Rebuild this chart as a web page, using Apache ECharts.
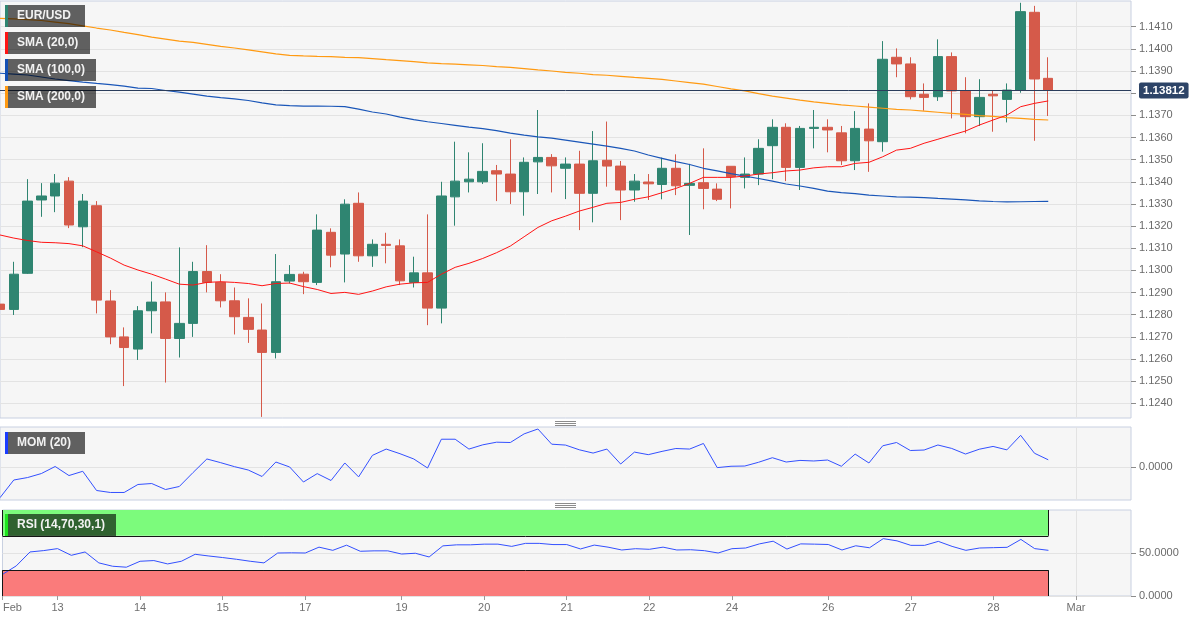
<!DOCTYPE html>
<html><head><meta charset="utf-8">
<script src="https://cdn.jsdelivr.net/npm/echarts@6/dist/echarts.min.js"></script>
<style>html,body{margin:0;padding:0;background:#fff}#c{width:1202px;height:622px}</style>
</head><body><div id="c"></div>
<script>
// ---------- DATA ----------
const categories = [
'02-12 08','02-12 12','02-12 16','02-12 20',
'02-13 00','02-13 04','02-13 08','02-13 12','02-13 16','02-13 20',
'02-14 00','02-14 04','02-14 08','02-14 12','02-14 16','02-14 20',
'02-15 00','02-15 04','02-15 08','02-15 12','02-15 16','02-15 20',
'02-17 20',
'02-18 00','02-18 04','02-18 08','02-18 12','02-18 16','02-18 20',
'02-19 00','02-19 04','02-19 08','02-19 12','02-19 16','02-19 20',
'02-20 00','02-20 04','02-20 08','02-20 12','02-20 16','02-20 20',
'02-21 00','02-21 04','02-21 08','02-21 12','02-21 16','02-21 20',
'02-22 00','02-22 04','02-22 08','02-22 12','02-22 16','02-22 20',
'02-24 20',
'02-25 00','02-25 04','02-25 08','02-25 12','02-25 16','02-25 20',
'02-26 00','02-26 04','02-26 08','02-26 12','02-26 16','02-26 20',
'02-27 00','02-27 04','02-27 08','02-27 12','02-27 16','02-27 20',
'02-28 00','02-28 04','02-28 08','02-28 12','02-28 16','02-28 20',
'03-01 00','03-01 04','03-01 08','03-01 12','03-01 16'
];
const labelIndex = [0,4,10,16,22,29,35,41,47,53,60,66,72,78];
const labelText  = ['Feb','13','14','15','17','19','20','21','22','24','26','27','28','Mar'];

const opens = [1.12848,1.12824,1.12987,1.13318,1.13336,1.13403,1.13197,1.13292,1.12862,1.12700,
1.12645,1.12818,1.12858,1.12693,1.12761,1.12995,1.12946,1.12863,1.12788,1.12731,
1.12630,1.12952,1.12983,1.12946,1.13172,1.13074,1.13303,1.13066,1.13118,1.13111,
1.12946,1.12989,1.12830,1.13332,1.13400,1.13400,1.13450,1.13435,1.13355,1.13490,
1.13510,1.13461,1.13480,1.13348,1.13497,1.13471,1.13363,1.13399,1.13388,1.13461,
1.13384,1.13396,1.13367,1.13470,1.13420,1.13435,1.13563,1.13646,1.13465,1.13641,
1.13646,1.13621,1.13495,1.13638,1.13581,1.13962,1.13932,1.13795,1.13784,1.13965,
1.13810,1.13694,1.13795,1.13772,1.13814,1.14165,1.13867];
const highs = [1.12911,1.13039,1.13412,1.13394,1.13435,1.13421,1.13345,1.13313,1.12911,1.12743,
1.12839,1.12950,1.12901,1.13104,1.13039,1.13114,1.12983,1.12923,1.12874,1.12851,
1.13074,1.13024,1.12994,1.13253,1.13190,1.13321,1.13352,1.13140,1.13170,1.13140,
1.13062,1.13253,1.13400,1.13581,1.13533,1.13574,1.13476,1.13592,1.13510,1.13724,
1.13525,1.13510,1.13540,1.13629,1.13672,1.13494,1.13435,1.13435,1.13509,1.13524,
1.13481,1.13551,1.13393,1.13470,1.13510,1.13592,1.13682,1.13664,1.13652,1.13724,
1.13682,1.13652,1.13719,1.13754,1.14035,1.14002,1.13962,1.13844,1.14043,1.13984,
1.13872,1.13863,1.13814,1.13844,1.14208,1.14194,1.13962];
const lows = [1.12573,1.12799,1.12984,1.13242,1.13263,1.13191,1.13105,1.12806,1.12667,1.12478,
1.12596,1.12716,1.12494,1.12607,1.12700,1.12901,1.12833,1.12711,1.12673,1.12339,
1.12603,1.12941,1.12893,1.12934,1.13014,1.12946,1.13039,1.13016,1.13032,1.12934,
1.12923,1.12753,1.12761,1.13202,1.13352,1.13390,1.13313,1.13300,1.13247,1.13345,
1.13352,1.13322,1.13182,1.13217,1.13378,1.13227,1.13310,1.13318,1.13321,1.13340,
1.13160,1.13276,1.13313,1.13280,1.13370,1.13385,1.13412,1.13403,1.13363,1.13551,
1.13533,1.13476,1.13453,1.13445,1.13536,1.13872,1.13772,1.13721,1.13765,1.13686,
1.13619,1.13652,1.13626,1.13668,1.13802,1.13585,1.13697];
const closes = [1.12824,1.12983,1.13313,1.13336,1.13394,1.13205,1.13313,1.12866,1.12700,1.12652,
1.12818,1.12857,1.12693,1.12761,1.12995,1.12946,1.12863,1.12791,1.12734,1.12630,
1.12949,1.12982,1.12949,1.13182,1.13069,1.13299,1.13066,1.13118,1.13113,1.12953,
1.12989,1.12830,1.13336,1.13403,1.13412,1.13447,1.13435,1.13355,1.13488,1.13510,
1.13472,1.13480,1.13348,1.13495,1.13471,1.13363,1.13403,1.13391,1.13461,1.13382,
1.13393,1.13370,1.13321,1.13423,1.13435,1.13551,1.13646,1.13465,1.13641,1.13646,
1.13634,1.13495,1.13641,1.13585,1.13953,1.13932,1.13784,1.13781,1.13965,1.13810,
1.13694,1.13781,1.13788,1.13814,1.14168,1.13864,1.13812];

const sma20 = [1.13160,1.13146,1.13135,1.13127,1.13125,1.13121,1.13111,1.13084,1.13056,1.13024,
1.13002,1.12983,1.12961,1.12938,1.12934,1.12946,1.12949,1.12946,1.12941,1.12931,
1.12941,1.12943,1.12927,1.12914,1.12896,1.12901,1.12892,1.12907,1.12926,1.12938,
1.12944,1.12946,1.12983,1.13014,1.13032,1.13054,1.13080,1.13110,1.13152,1.13194,
1.13224,1.13245,1.13268,1.13285,1.13303,1.13307,1.13321,1.13332,1.13351,1.13370,
1.13393,1.13420,1.13420,1.13420,1.13426,1.13435,1.13441,1.13449,1.13453,1.13463,
1.13468,1.13468,1.13483,1.13488,1.13513,1.13543,1.13551,1.13574,1.13592,1.13611,
1.13629,1.13656,1.13679,1.13701,1.13739,1.13754,1.13765];
const sma100 = [1.13890,1.13886,1.13882,1.13873,1.13864,1.13857,1.13850,1.13844,1.13839,1.13832,
1.13823,1.13821,1.13812,1.13805,1.13796,1.13787,1.13780,1.13774,1.13767,1.13756,
1.13747,1.13744,1.13742,1.13742,1.13741,1.13739,1.13728,1.13715,1.13706,1.13692,
1.13681,1.13671,1.13663,1.13655,1.13647,1.13640,1.13631,1.13620,1.13611,1.13603,
1.13597,1.13588,1.13579,1.13570,1.13561,1.13551,1.13539,1.13521,1.13506,1.13491,
1.13478,1.13461,1.13449,1.13437,1.13426,1.13415,1.13403,1.13390,1.13381,1.13370,
1.13358,1.13351,1.13347,1.13340,1.13336,1.13332,1.13331,1.13329,1.13325,1.13322,
1.13318,1.13314,1.13311,1.13309,1.13310,1.13311,1.13312];
const sma200 = [1.14138,1.14135,1.14132,1.14128,1.14121,1.14114,1.14104,1.14094,1.14085,1.14074,
1.14064,1.14053,1.14044,1.14035,1.14029,1.14020,1.14011,1.14004,1.13995,1.13986,
1.13977,1.13971,1.13968,1.13966,1.13965,1.13962,1.13960,1.13956,1.13951,1.13947,
1.13942,1.13937,1.13933,1.13931,1.13928,1.13925,1.13920,1.13916,1.13911,1.13905,
1.13900,1.13894,1.13890,1.13884,1.13881,1.13876,1.13871,1.13867,1.13862,1.13855,
1.13848,1.13841,1.13830,1.13819,1.13810,1.13798,1.13787,1.13778,1.13769,1.13761,
1.13754,1.13747,1.13742,1.13737,1.13732,1.13727,1.13724,1.13719,1.13714,1.13709,
1.13704,1.13699,1.13695,1.13690,1.13686,1.13682,1.13679];

const mom = [-0.0038,-0.00159,-0.00128,-0.00078,0.0001,-0.00103,-0.0005,-0.0029,-0.00315,-0.00315,
-0.00215,-0.00203,-0.00278,-0.0024,-0.00065,0.00104,0.00058,0.00008,-0.00034,-0.00115,
0.00066,0.00004,-0.00184,-0.00079,-0.00165,0.00054,-0.0012,0.00149,0.00228,0.0017,
0.00104,-0.00009,0.00351,0.00351,0.00228,0.00281,0.00314,0.0031,0.00418,0.00479,
0.00289,0.00278,0.00219,0.00178,0.00228,0.00041,0.0019,0.00158,0.00199,0.00235,
0.00228,0.00298,-0.00004,0.00013,0.00016,0.00063,0.0012,0.00066,0.00086,0.00079,
0.00091,0.00013,0.00165,0.00054,0.00269,0.0031,0.0021,0.00216,0.00279,0.00236,
0.00166,0.00226,0.00261,0.00218,0.004,0.00176,0.00094];
const rsi = [25.1,35.0,51.2,52.8,55.1,47.3,51.2,38.5,34.6,33.5,
40.4,41.2,37.3,40.4,48.5,46.5,44.7,42.7,40.4,38.5,
50.0,50.2,50.0,56.8,53.1,59.1,52.0,52.5,52.5,48.8,
49.7,45.4,58.3,59.5,59.5,60.3,60.3,57.7,61.2,61.2,
59.8,59.8,54.7,59.2,56.8,53.5,55.0,54.3,56.8,53.5,
53.8,52.7,50.0,55.0,55.8,60.6,63.7,54.6,60.6,60.3,
59.9,53.5,58.4,56.1,66.7,64.1,58.9,58.9,63.5,57.7,
53.1,55.8,56.2,56.6,65.8,55.1,53.1];
const rsiUpper = 70, rsiLower = 30;

const priceTicks = [1.124,1.125,1.126,1.127,1.128,1.129,1.130,1.131,1.132,1.133,1.134,1.135,1.136,1.137,1.138,1.139,1.140,1.141];
const momTicks = [0];
const rsiTicks = [0, 50];

// ---------- CHART ----------
const FONT = '"Liberation Sans", Arial, Helvetica, sans-serif';
const UP = '#2f8571', DOWN = '#d55a4a';
const BORDER = '#c8d0e1', SPLIT = '#e3e3e3', PLOTBG = '#f6f6f6';
const lastIdx = closes.length - 1;
const lastClose = closes[lastIdx];
const candleData = opens.map((o, i) => [o, closes[i], lows[i], highs[i]]);
const labelAt = {};
labelIndex.forEach((ix, k) => { labelAt[ix] = labelText[k]; });
const marIndex = labelIndex[labelIndex.length - 1];

function xAxisCfg(gi, showLabels) {
  return {
    type: 'category', gridIndex: gi, data: categories, boundaryGap: false,
    axisLine: { show: false },
    axisTick: showLabels ? { show: true, length: 4, lineStyle: { color: '#9a9a9a' },
      interval: (i) => labelAt[i] !== undefined } : { show: false },
    axisLabel: showLabels ? {
      show: true, interval: (i) => labelAt[i] !== undefined,
      formatter: (v, i) => i === 0 ? '{first|' + labelAt[i] + '}' : (labelAt[i] || ''),
      color: '#707070', fontSize: 11, fontFamily: FONT, margin: 6,
      rich: { first: { padding: [0, 0, 0, 20], fontSize: 11, color: '#707070', fontFamily: FONT } }
    } : { show: false },
    splitLine: { show: true, interval: (i) => i === marIndex, lineStyle: { color: SPLIT } }
  };
}
function yLabel(vals) {
  return { color: '#6a6a6a', fontSize: 11, fontFamily: FONT, margin: 8,
           formatter: (v) => Number(v).toFixed(4), customValues: vals };
}

const legendItems = [
  { text: 'EUR/USD', color: UP, x: 5, y: 5, w: 80 },
  { text: 'SMA (20,0)', color: '#ff1414', x: 5, y: 32, w: 85 },
  { text: 'SMA (100,0)', color: '#1450b4', x: 5, y: 59, w: 91 },
  { text: 'SMA (200,0)', color: '#ff9a12', x: 5, y: 86, w: 91 },
  { text: 'MOM (20)', color: '#1a3cff', x: 5, y: 432, w: 80 },
  { text: 'RSI (14,70,30,1)', color: '#1ee61e', x: 5, y: 514, w: 111 }
];
const graphics = [];
legendItems.forEach((it) => {
  graphics.push({ type: 'rect', z: 100, shape: { x: it.x, y: it.y, width: it.w, height: 22 },
                  style: { fill: 'rgba(0,0,0,0.61)' } });
  graphics.push({ type: 'rect', z: 101, shape: { x: it.x, y: it.y, width: 3, height: 22 },
                  style: { fill: it.color } });
  graphics.push({ type: 'text', z: 102, x: it.x + 12, y: it.y + 11,
                  style: { text: it.text, fill: '#f2f2f2', font: 'bold 12px ' + FONT,
                           textVerticalAlign: 'middle', verticalAlign: 'middle' } });
});
[421.5, 503.5].forEach((y0) => {
  [0, 2, 4].forEach((d) => {
    graphics.push({ type: 'line', z: 100, shape: { x1: 555, y1: y0 + d, x2: 576, y2: y0 + d },
                    style: { stroke: '#8c8c8c', lineWidth: 1 } });
  });
});

const option = {
  animation: false,
  backgroundColor: '#ffffff',
  textStyle: { fontFamily: FONT },
  grid: [
    { left: 0, top: 1, width: 1131, height: 417, show: true, backgroundColor: PLOTBG, borderColor: BORDER, borderWidth: 1 },
    { left: 0, top: 427, width: 1131, height: 73, show: true, backgroundColor: PLOTBG, borderColor: BORDER, borderWidth: 1 },
    { left: 0, top: 510, width: 1131, height: 86, show: true, backgroundColor: PLOTBG, borderColor: BORDER, borderWidth: 1 }
  ],
  xAxis: [xAxisCfg(0, false), xAxisCfg(1, false), xAxisCfg(2, true)],
  yAxis: [
    { type: 'value', gridIndex: 0, position: 'right', min: 1.12334, max: 1.14216, splitNumber: 18,
      axisLine: { show: false },
      axisTick: { show: true, length: 5, lineStyle: { color: '#8c8c8c' }, customValues: priceTicks },
      axisLabel: yLabel(priceTicks), splitLine: { lineStyle: { color: SPLIT } } },
    { type: 'value', gridIndex: 1, position: 'right', min: -0.00409, max: 0.00504, splitNumber: 1,
      axisLine: { show: false },
      axisTick: { show: true, length: 5, lineStyle: { color: '#8c8c8c' }, customValues: momTicks },
      axisLabel: yLabel(momTicks), splitLine: { lineStyle: { color: SPLIT } } },
    { type: 'value', gridIndex: 2, position: 'right', min: 0, max: 100, splitNumber: 2,
      axisLine: { show: false },
      axisTick: { show: true, length: 5, lineStyle: { color: '#8c8c8c' }, customValues: rsiTicks },
      axisLabel: yLabel(rsiTicks), splitLine: { lineStyle: { color: SPLIT } } }
  ],
  graphic: graphics,
  series: [
    { type: 'candlestick', name: 'EUR/USD', xAxisIndex: 0, yAxisIndex: 0, data: candleData,
      barWidth: 10, clip: true, silent: true,
      itemStyle: { color: UP, color0: DOWN, borderColor: UP, borderColor0: DOWN, borderWidth: 1 },
      markLine: { silent: true, symbol: ['none', 'none'], precision: 5,
        lineStyle: { color: '#2b3d5c', width: 1, type: 'solid' },
        label: { show: true, position: 'end', distance: 8, formatter: () => lastClose.toFixed(5),
                 color: '#ffffff', fontWeight: 'bold', fontSize: 11.5, fontFamily: FONT,
                 backgroundColor: '#2d4467', padding: [2, 4, 2, 4], borderRadius: 2 },
        data: [{ yAxis: lastClose }] } },
    { type: 'line', name: 'SMA (200,0)', xAxisIndex: 0, yAxisIndex: 0, data: sma200, symbol: 'none',
      silent: true, lineStyle: { color: '#ff9a12', width: 1.2 }, z: 3 },
    { type: 'line', name: 'SMA (100,0)', xAxisIndex: 0, yAxisIndex: 0, data: sma100, symbol: 'none',
      silent: true, lineStyle: { color: '#1a56b8', width: 1.2 }, z: 3 },
    { type: 'line', name: 'SMA (20,0)', xAxisIndex: 0, yAxisIndex: 0, data: sma20, symbol: 'none',
      silent: true, lineStyle: { color: '#ff1414', width: 1 }, z: 3 },
    { type: 'line', name: 'MOM (20)', xAxisIndex: 1, yAxisIndex: 1, data: mom, symbol: 'none',
      silent: true, lineStyle: { color: '#3350ff', width: 1 } },
    { type: 'line', name: 'RSI', xAxisIndex: 2, yAxisIndex: 2, data: rsi, symbol: 'none',
      silent: true, lineStyle: { color: '#3350ff', width: 1 }, z: 4,
      markArea: { silent: true, data: [
        [{ xAxis: categories[0], yAxis: rsiUpper, itemStyle: { color: '#7cfb7c' } },
         { xAxis: categories[lastIdx], yAxis: 100 }],
        [{ xAxis: categories[0], yAxis: 0, itemStyle: { color: '#fa7b7b' } },
         { xAxis: categories[lastIdx], yAxis: rsiLower }]
      ] },
      markLine: { silent: true, symbol: ['none', 'none'], label: { show: false },
        lineStyle: { color: '#151515', width: 1, type: 'solid' },
        data: [
          [{ coord: [categories[0], rsiUpper] }, { coord: [categories[lastIdx], rsiUpper] }],
          [{ coord: [categories[lastIdx], rsiUpper] }, { coord: [categories[lastIdx], 100] }],
          [{ coord: [categories[0], rsiLower] }, { coord: [categories[lastIdx], rsiLower] }],
          [{ coord: [categories[lastIdx], 0] }, { coord: [categories[lastIdx], rsiLower] }],
          [{ coord: [categories[0], 0] }, { coord: [categories[0], rsiLower] }],
          [{ coord: [categories[0], rsiUpper] }, { coord: [categories[0], 100] }]
        ] } }
  ]
};
const chart = echarts.init(document.getElementById('c'), null, { renderer: 'canvas', devicePixelRatio: 1 });
chart.setOption(option);
</script>
</body></html>
